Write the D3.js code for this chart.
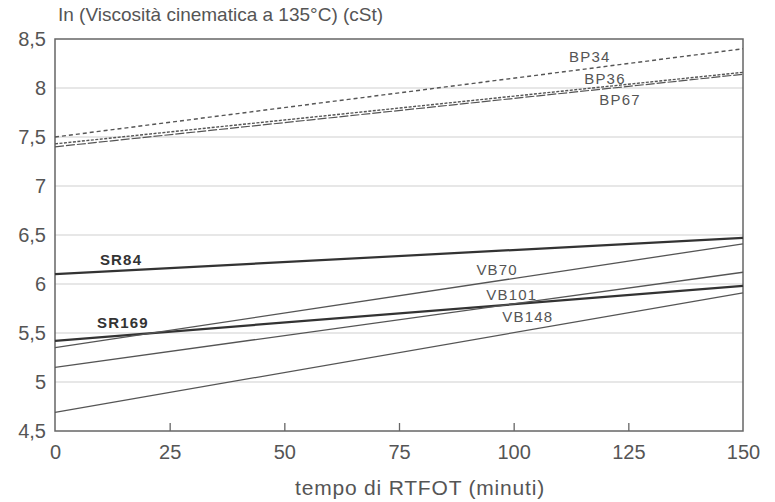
<!DOCTYPE html>
<html>
  <head>
    <meta charset="utf-8" />
    <script src="https://cdn.jsdelivr.net/npm/d3@7"></script>
    <style>
      body {
        margin: 0;
        background: #fff;
      }
      svg text {
        font-family: "Liberation Sans", Arial, sans-serif;
        fill: #555;
      }
    </style>
  </head>
  <body>
    <svg id="chart" width="775" height="502"></svg>
    <script>
      // RTFOT time (minutes), endpoints of each straight line
      const times = [0, 150];
      const xTicks = [0, 25, 50, 75, 100, 125, 150];
      const yTicks = [4.5, 5, 5.5, 6, 6.5, 7, 7.5, 8, 8.5];

      const names = ["BP34", "BP36", "BP67", "SR84", "SR169", "VB70", "VB101", "VB148"];
      const BP34 = [7.5, 8.4];
      const BP36 = [7.43, 8.16];
      const BP67 = [7.4, 8.14];
      const SR84 = [6.1, 6.47];
      const SR169 = [5.42, 5.98];
      const VB70 = [5.35, 6.41];
      const VB101 = [5.15, 6.12];
      const VB148 = [4.69, 5.91];
      const values = [BP34, BP36, BP67, SR84, SR169, VB70, VB101, VB148];

      const svg = d3.select("#chart");
      const m = { left: 55, right: 743, top: 39, bottom: 431 };

      const x = d3.scaleLinear().domain([0, 150]).range([m.left, m.right]);
      const y = d3.scaleLinear().domain([4.5, 8.5]).range([m.bottom, m.top]);
      const fmt = (d) => String(d).replace(".", ",");

      // grid lines
      svg.append("g")
        .selectAll("line")
        .data(yTicks.slice(1, -1))
        .join("line")
        .attr("x1", m.left)
        .attr("x2", m.right)
        .attr("y1", (d) => y(d))
        .attr("y2", (d) => y(d))
        .attr("stroke", "#cfcfcf")
        .attr("stroke-width", 1);

      // frame
      svg.append("rect")
        .attr("x", m.left)
        .attr("y", m.top)
        .attr("width", m.right - m.left)
        .attr("height", m.bottom - m.top)
        .attr("fill", "none")
        .attr("stroke", "#666")
        .attr("stroke-width", 1.5);

      // x axis: ticks pointing inward
      const xAxis = svg.append("g")
        .attr("transform", `translate(0,${m.bottom})`)
        .call(d3.axisBottom(x).tickValues(xTicks).tickSizeInner(-8).tickSizeOuter(0).tickPadding(14));
      xAxis.select(".domain").remove();
      xAxis.selectAll("line").attr("stroke", "#666").attr("stroke-width", 1.3)
        .filter((d) => d === 0 || d === 150).remove();
      xAxis.selectAll("text").attr("font-size", 20).attr("fill", "#555");

      // y axis
      const yAxis = svg.append("g")
        .attr("transform", `translate(${m.left},0)`)
        .call(d3.axisLeft(y).tickValues(yTicks).tickFormat(fmt).tickSize(0).tickPadding(9));
      yAxis.select(".domain").remove();
      yAxis.selectAll("text").attr("font-size", 20).attr("fill", "#555");

      // axis titles
      svg.append("text")
        .attr("x", 58)
        .attr("y", 21)
        .attr("font-size", 19)
        .text("In (Viscosità cinematica a 135°C) (cSt)");
      svg.append("text")
        .attr("x", 420)
        .attr("y", 495)
        .attr("text-anchor", "middle")
        .attr("font-size", 21)
        .attr("letter-spacing", 0.8)
        .text("tempo di RTFOT (minuti)");

      // series lines
      const styles = {
        BP34: { dash: "4,3", width: 1.4, color: "#555" },
        BP36: { dash: "3,1.5", width: 1.4, color: "#555" },
        BP67: { dash: "9,2", width: 1.2, color: "#555" },
        SR84: { dash: null, width: 2.2, color: "#333" },
        SR169: { dash: null, width: 2.2, color: "#333" },
        VB70: { dash: null, width: 1.3, color: "#555" },
        VB101: { dash: null, width: 1.3, color: "#555" },
        VB148: { dash: null, width: 1.3, color: "#555" },
      };

      const line = d3.line()
        .x((d, i) => x(times[i]))
        .y((d) => y(d));

      names.forEach((n, k) => {
        const s = styles[n];
        svg.append("path")
          .datum(values[k])
          .attr("d", line)
          .attr("fill", "none")
          .attr("stroke", s.color)
          .attr("stroke-width", s.width)
          .attr("stroke-dasharray", s.dash);
      });

      // labels placed at a time position, slightly off the line
      const labels = [
        { name: "BP34", t: 116.6, v: 8.27, bold: false },
        { name: "BP36", t: 119.9, v: 8.04, bold: false },
        { name: "BP67", t: 123.2, v: 7.83, bold: false },
        { name: "SR84", t: 14.4, v: 6.19, bold: true },
        { name: "SR169", t: 14.8, v: 5.55, bold: true },
        { name: "VB70", t: 96.4, v: 6.09, bold: false },
        { name: "VB101", t: 99.6, v: 5.84, bold: false },
        { name: "VB148", t: 103.1, v: 5.61, bold: false },
      ];
      svg.append("g")
        .selectAll("text")
        .data(labels)
        .join("text")
        .attr("x", (d) => x(d.t))
        .attr("y", (d) => y(d.v))
        .attr("text-anchor", "middle")
        .attr("font-size", 15)
        .attr("letter-spacing", 1.2)
        .attr("font-weight", (d) => (d.bold ? "bold" : "normal"))
        .attr("style", (d) => (d.bold ? "fill:#333" : null))
        .text((d) => d.name);
    </script>
  </body>
</html>
